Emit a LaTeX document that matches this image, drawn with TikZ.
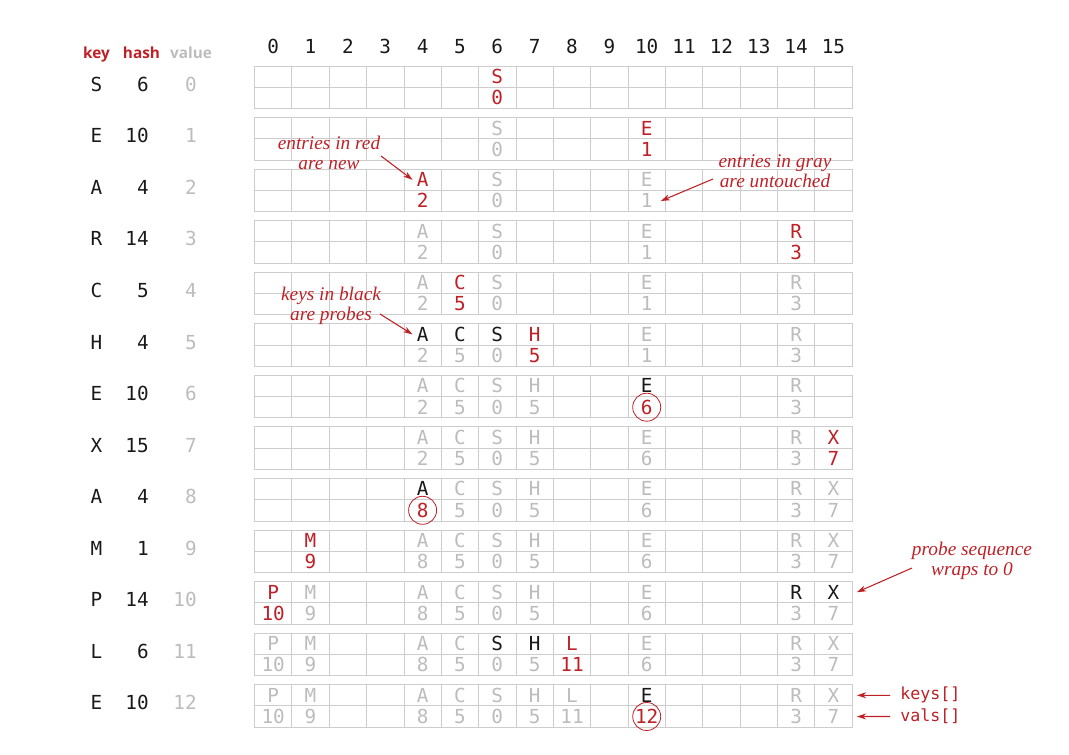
\documentclass[tikz,border=0pt]{standalone}
\usepackage{fontspec}
\usetikzlibrary{arrows.meta}
\newfontfamily\cellfont{DejaVu Sans Mono}
\newfontfamily\headfont{Open Sans}
\newfontfamily\notefont{Liberation Serif}
\definecolor{hashred}{RGB}{190,32,38}
\definecolor{untouched}{RGB}{188,188,188}
\definecolor{gridgray}{RGB}{205,205,205}
\definecolor{probeblack}{RGB}{25,25,25}

\begin{document}
\begin{tikzpicture}[
    x=0.75pt,
    y=-0.75pt,
    cell/.style={
      inner sep=0pt,
      font=\cellfont\fontsize{14.5}{14.5}\selectfont,
      text height=10.2pt,
      text depth=0pt
    },
    grid/.style={draw=gridgray, line width=0.6pt},
    head/.style={inner sep=0pt, anchor=base, font=\headfont\bfseries\fontsize{11.5}{11.5}\selectfont},
    keyn/.style={cell, text=hashred},
    valn/.style={cell, text=hashred},
    keyg/.style={cell, text=untouched},
    valg/.style={cell, text=untouched},
    keyp/.style={cell, text=probeblack},
    valp/.style={cell, text=untouched},
    keyu/.style={cell, text=probeblack},
    valu/.style={cell, text=hashred, circle, draw=hashred, line width=0.6pt, minimum size=21pt},
    note/.style={align=center, inner sep=0pt, text=hashred, font=\notefont\itshape\fontsize{14.5}{15}\selectfont},
    notearrow/.style={draw=hashred, line width=0.8pt, -{Stealth[length=7pt,width=4.5pt]}},
    arraylabel/.style={inner sep=0pt, anchor=west, text=hashred, text height=9pt, text depth=2pt,
      font=\cellfont\fontsize{12.5}{12.5}\selectfont}
    ]
    \useasboundingbox (0,0) rectangle (1069,755);

    \node[head, text=hashred] (hkey) at (96.5,59) {key};
    \node[head, text=hashred] (hhash) at (141.5,59) {hash};
    \node[head, text=untouched] (hvalue) at (191,59) {value};
    \foreach \c in {0,...,15}{
      \node[keyp] (col-\c) at (273.2+37.35*\c,47) {\c};
    }

    \foreach \r in {0,...,12}{
      \draw[grid] (254.5,66+51.55*\r) rectangle (852,108.5+51.55*\r);
      \draw[grid] (254.5,87.25+51.55*\r) -- (852,87.25+51.55*\r);
      \foreach \c in {1,...,15}{
        \draw[grid] (254.5+37.35*\c,66+51.55*\r) -- ++(0,42.5);
      }
    }

    \foreach \r/\k/\h/\cells in {
      0/S/6/{6/S/0/n},
      1/E/10/{6/S/0/g,10/E/1/n},
      2/A/4/{4/A/2/n,6/S/0/g,10/E/1/g},
      3/R/14/{4/A/2/g,6/S/0/g,10/E/1/g,14/R/3/n},
      4/C/5/{4/A/2/g,5/C/5/n,6/S/0/g,10/E/1/g,14/R/3/g},
      5/H/4/{4/A/2/p,5/C/5/p,6/S/0/p,7/H/5/n,10/E/1/g,14/R/3/g},
      6/E/10/{4/A/2/g,5/C/5/g,6/S/0/g,7/H/5/g,10/E/6/u,14/R/3/g},
      7/X/15/{4/A/2/g,5/C/5/g,6/S/0/g,7/H/5/g,10/E/6/g,14/R/3/g,15/X/7/n},
      8/A/4/{4/A/8/u,5/C/5/g,6/S/0/g,7/H/5/g,10/E/6/g,14/R/3/g,15/X/7/g},
      9/M/1/{1/M/9/n,4/A/8/g,5/C/5/g,6/S/0/g,7/H/5/g,10/E/6/g,14/R/3/g,15/X/7/g},
      10/P/14/{0/P/10/n,1/M/9/g,4/A/8/g,5/C/5/g,6/S/0/g,7/H/5/g,10/E/6/g,14/R/3/p,15/X/7/p},
      11/L/6/{0/P/10/g,1/M/9/g,4/A/8/g,5/C/5/g,6/S/0/p,7/H/5/p,8/L/11/n,10/E/6/g,14/R/3/g,15/X/7/g},
      12/E/10/{0/P/10/g,1/M/9/g,4/A/8/g,5/C/5/g,6/S/0/g,7/H/5/g,8/L/11/g,10/E/12/u,14/R/3/g,15/X/7/g}%
    }{
      \node[keyp] (key-\r) at (96.5,84.5+51.55*\r) {\k};
      \node[keyp, anchor=east] (hash-\r) at (149,84.5+51.55*\r) {\h};
      \node[keyg, anchor=east] (val-\r) at (197,84.5+51.55*\r) {\r};
      \foreach \c/\ck/\cv/\s in \cells{
        \node[key\s] (k-\r-\c) at (273.2+37.35*\c,76.7+51.55*\r) {\ck};
        \node[val\s] (v-\r-\c) at (273.2+37.35*\c,97.9+51.55*\r) {\cv};
      }
    }

    \node[note] (rednote) at (329,153) {entries in red\\are new};
    \coordinate (rednote-tail) at (381,156);
    \node[note] (graynote) at (775,171) {entries in gray\\are untouched};
    \coordinate (graynote-tail) at (713,179);
    \node[note] (probenote) at (331,306) {keys in black\\are probes};
    \coordinate (probenote-tail) at (380,314);
    \node[note] (wrapnote) at (972,561) {probe sequence\\wraps to 0};
    \coordinate (wrapnote-tail) at (912,568);
    \node[arraylabel] (keyslabel) at (900,695.3) {keys[]};
    \node[arraylabel] (valslabel) at (900,716.5) {vals[]};

    \draw[notearrow] (rednote-tail) -- ([xshift=-3pt]k-2-4.west);
    \draw[notearrow] (graynote-tail) -- ([xshift=6pt]v-2-10.east);
    \draw[notearrow] (probenote-tail) -- ([xshift=-3pt]k-5-4.west);
    \draw[notearrow] (wrapnote-tail) -- ([xshift=13pt]k-10-15.east);
    \draw[notearrow] ([xshift=-7.5pt]keyslabel.west) -- ([xshift=13pt]k-12-15.east);
    \draw[notearrow] ([xshift=-7.5pt]valslabel.west) -- ([xshift=13pt]v-12-15.east);
  \end{tikzpicture}
\end{document}
